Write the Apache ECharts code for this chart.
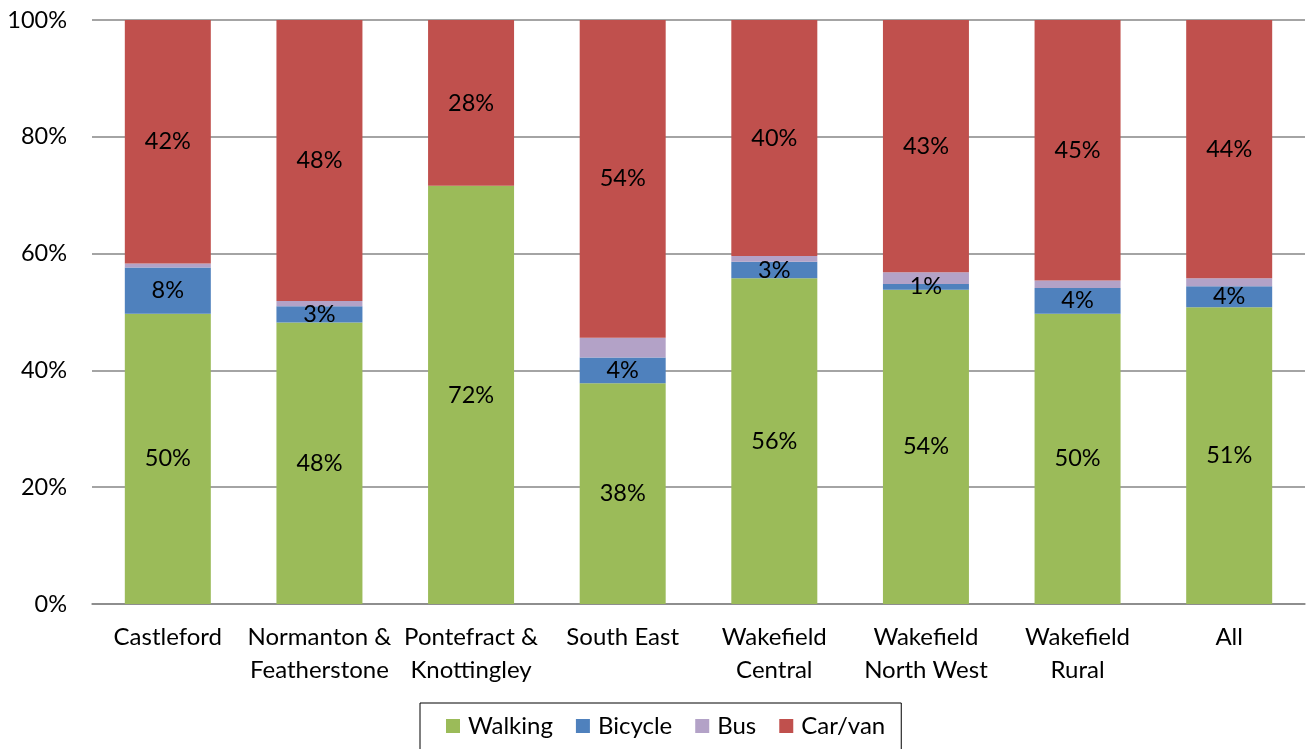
<!DOCTYPE html>
<html>
<head>
<meta charset="utf-8">
<script src="https://cdn.jsdelivr.net/npm/echarts@6/dist/echarts.min.js"></script>
<style>
html,body{margin:0;padding:0;background:#fff;}
#chart{width:1314px;height:749px;}
</style>
</head>
<body>
<div id="chart"></div>
<script>
const categories = ['Castleford', 'Normanton &\nFeatherstone', 'Pontefract &\nKnottingley', 'South East', 'Wakefield\nCentral', 'Wakefield\nNorth West', 'Wakefield\nRural', 'All'];
const walking = [49.7, 48.2, 71.6, 37.8, 55.8, 53.8, 49.7, 50.8];
const bicycle = [7.9, 2.8, 0, 4.4, 2.8, 1.0, 4.4, 3.6];
const bus = [0.7, 0.9, 0, 3.4, 1.0, 2.0, 1.3, 1.4];
const carVan = [41.7, 48.1, 28.4, 54.4, 40.4, 43.2, 44.6, 44.2];
const yTicks = [0, 20, 40, 60, 80, 100];

const FONT = 'Lato, "Open Sans", sans-serif';
const FS = 23.5;
const chart = echarts.init(document.getElementById('chart'));

function lbl(show) {
  return {
    show: show,
    position: 'inside',
    color: '#000',
    fontSize: FS,
    fontFamily: FONT,
    formatter: p => (p.value > 0 ? Math.round(p.value) + '%' : '')
  };
}

function mk(name, data, color, showLabel) {
  return {
    name: name,
    type: 'bar',
    stack: 'total',
    barWidth: 86,
    data: data,
    itemStyle: { color: color },
    label: lbl(showLabel),
    emphasis: { disabled: true }
  };
}

chart.setOption({
  animation: false,
  textStyle: { fontFamily: FONT },
  grid: { left: 92, right: 9, top: 20, bottom: 145, containLabel: false },
  xAxis: {
    type: 'category',
    data: categories,
    axisLine: { show: true, lineStyle: { color: '#868686', width: 1.5 } },
    axisTick: { show: false },
    axisLabel: { color: '#000', fontSize: 24, fontFamily: FONT, lineHeight: 33, margin: 17, interval: 0 }
  },
  yAxis: {
    type: 'value',
    min: 0,
    max: 100,
    interval: 20,
    axisLine: { show: false },
    axisTick: { show: false },
    splitLine: { lineStyle: { color: '#868686', width: 1.5 } },
    axisLabel: {
      color: '#000', fontSize: FS, fontFamily: FONT, margin: 25,
      formatter: v => (yTicks.indexOf(v) >= 0 ? v + '%' : '')
    }
  },
  legend: {
    left: 420,
    top: 703,
    itemWidth: 14,
    itemHeight: 14,
    itemGap: 23,
    icon: 'rect',
    borderColor: '#000',
    borderWidth: 1,
    borderRadius: 0,
    padding: [11, 16, 20, 26],
    textStyle: { color: '#000', fontSize: 24, fontFamily: FONT, padding: [0, 0, 0, 3] },
    data: ['Walking', 'Bicycle', 'Bus', 'Car/van']
  },
  series: [
    mk('Walking', walking, '#9BBB59', true),
    mk('Bicycle', bicycle, '#4F81BD', true),
    mk('Bus', bus, '#B3A2C7', false),
    mk('Car/van', carVan, '#C0504D', true)
  ]
});
</script>
</body>
</html>
